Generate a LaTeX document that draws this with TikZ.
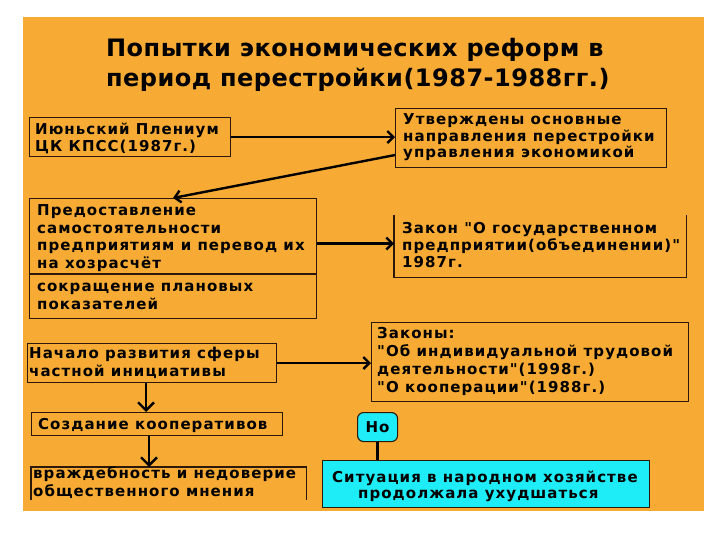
\documentclass[tikz,border=0pt]{standalone}
\usepackage{fontspec}
\setmainfont{DejaVu Sans}[Ligatures=TeXOff]
\newfontfamily\boxfont{DejaVu Sans}[Ligatures=TeXOff,LetterSpace=7]
\newfontfamily\titlefont{DejaVu Sans}[Ligatures=TeXOff,LetterSpace=2]
\usetikzlibrary{arrows.meta,calc}
\definecolor{bgorange}{RGB}{247,171,52}
\definecolor{boxline}{RGB}{45,25,10}
\definecolor{cyanbox}{RGB}{30,236,246}
\begin{document}
\begin{tikzpicture}[x=1pt,y=-1pt,
  frame/.style={draw=boxline,line width=1.1pt,rectangle,inner sep=0pt,anchor=north west},
  ghost/.style={rectangle,inner sep=0pt,anchor=north west},
  txt/.style={inner sep=0pt,anchor=base west,align=left,font=\boxfont\fontsize{15}{17.5}\selectfont\bfseries},
  arr/.style={line width=2.4pt,-{Straight Barb[length=6pt,width=12pt,line width=2.4pt]}},
  varr/.style={line width=2.4pt,-{Straight Barb[length=8pt,width=16pt,line width=2.4pt]}}]
\useasboundingbox (0,0) rectangle (720,540);
\fill[white] (0,0) rectangle (720,540);
\fill[bgorange] (23,17) rectangle (704,511);
% title
\node[inner sep=0pt,anchor=base west,align=left,font=\titlefont\fontsize{24}{30}\selectfont\bfseries] (title) at (106,87)
  {Попытки экономических реформ в\\период перестройки(1987-1988гг.)};
% boxes
\node[frame,minimum width=201,minimum height=39] (b1) at (29,117) {};
\node[frame,minimum width=271,minimum height=59] (b2) at (395,108) {};
\node[frame,minimum width=287,minimum height=120] (b3) at (29,198) {};
\node[ghost,minimum width=292,minimum height=62] (b4) at (394,215) {};
\draw[boxline,line width=1.1pt] (b4.north west) -- (b4.south west) -- (b4.south east) -- (b4.north east);
\node[frame,minimum width=249,minimum height=39] (b5) at (27,343) {};
\node[frame,minimum width=317,minimum height=79] (b6) at (371,322) {};
\node[frame,minimum width=251,minimum height=23] (b7) at (31,412) {};
\node[ghost,minimum width=275,minimum height=33] (b8) at (31,467) {};
\draw[boxline,line width=1.1pt] (b8.south west) -- (b8.north west) -- (b8.north east) -- (b8.south east);
\node[frame,fill=cyanbox,rounded corners=6pt,minimum width=40,minimum height=29] (no) at (357,412) {};
\node[frame,fill=cyanbox,minimum width=327,minimum height=47] (b10) at (322,460) {};
\draw[boxline,line width=1.1pt] (b3.west |- 0,274) -- (b3.east |- 0,274);
% texts (anchored at the baseline of the last line)
\node[txt] (b1t) at (35,152) {Июньский Плениум\\ЦК КПСС(1987г.)};
\node[txt,font=\boxfont\fontsize{15}{16.5}\selectfont\bfseries] (b2t) at (403,158) {Утверждены основные\\направления перестройки\\управления экономикой};
\node[txt] (b3t) at (37,268) {Предоставление\\самостоятельности\\предприятиям и перевод их\\на хозрасчёт};
\node[txt] (b3u) at (37,309) {сокращение плановых\\показателей};
\node[txt,font=\boxfont\fontsize{15}{17}\selectfont\bfseries] (b4t) at (402,267) {Закон "О государственном\\предприятии(объединении)"\\1987г.};
\node[txt] (b5t) at (29,376) {Начало развития сферы\\частной инициативы};
\node[txt,font=\boxfont\fontsize{15}{18}\selectfont\bfseries] (b6t) at (377,392) {Законы:\\"Об индивидуальной трудовой\\деятельности"(1998г.)\\"О кооперации"(1988г.)};
\node[txt] (b7t) at (38,429) {Создание кооперативов};
\node[txt] (b8t) at (33,496) {враждебность и недоверие\\общественного мнения};
\node[inner sep=0pt,font=\boxfont\fontsize{15}{17}\selectfont\bfseries] (not) at (no.center) {Но};
\node[txt,font=\boxfont\fontsize{15}{16}\selectfont\bfseries] (b10t) at (332,498) {Ситуация в народном хозяйстве\\\hspace*{26pt}продолжала ухудшаться};
% connectors
\draw[arr] (b1.east) -- (b1.east -| b2.west);
\draw[arr] ([yshift=-17pt]b2.west) -- (b3.north);
\draw[arr] ([yshift=15pt]b3.east) -- ([yshift=15pt]b3.east -| b4.west);
\draw[arr] (b5.east) -- (b5.east -| b6.west);
\draw[varr] ([xshift=-6pt]b5.south) -- ([xshift=-6pt]b5.south |- b7.north);
\draw[varr] ([xshift=-8pt]b7.south) -- ([xshift=-8pt]b7.south |- b8.north);
\draw[line width=2.4pt] (no.south) -- (no.south |- b10.north);
\end{tikzpicture}
\end{document}
